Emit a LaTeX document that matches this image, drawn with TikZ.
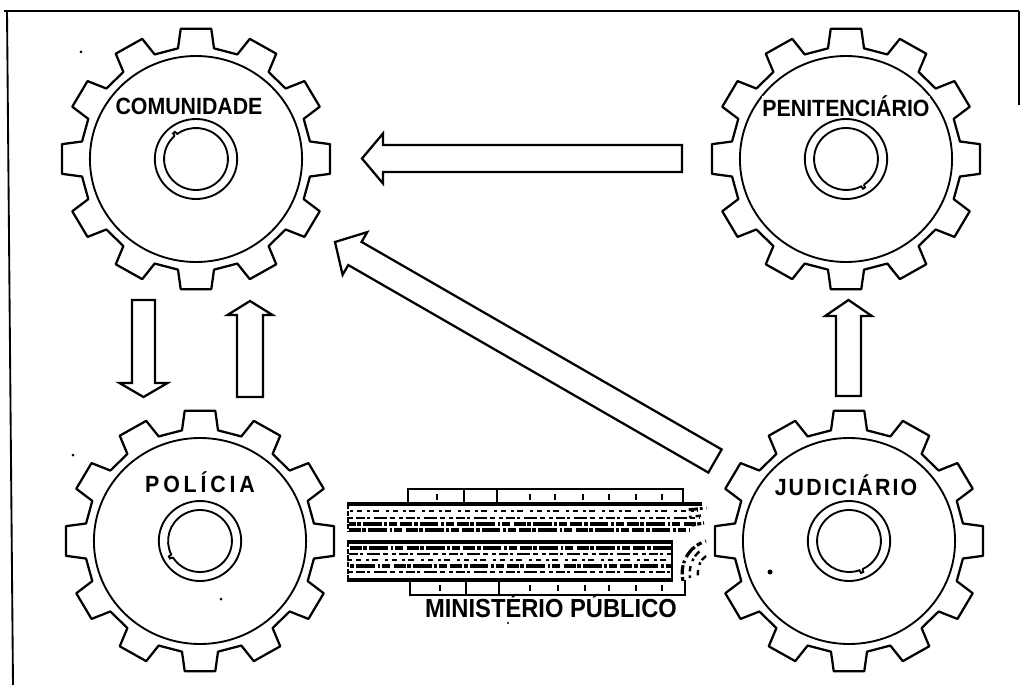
\documentclass[tikz,border=0pt]{standalone}
\usepackage{fontspec}
\setmainfont{Liberation Sans}
\usetikzlibrary{calc}

\tikzset{
  gearline/.style={line width=1.7pt, line join=round},
  hubline/.style={line width=1.4pt},
  arrowline/.style={line width=1.7pt, line join=miter, fill=white},
  framer/.style={line width=1.4pt},
  bracket/.style={line width=1.3pt},
  tickmark/.style={line width=1.1pt},
  heavy/.style={line width=2.4pt},
  speckA/.style={line width=2.2pt, dash pattern=on 3pt off 2pt on 7pt off 1.5pt on 2pt off 3pt on 10pt off 2pt on 4pt off 3pt},
  speckB/.style={line width=2.5pt, dash pattern=on 9pt off 1pt on 3pt off 1.5pt on 14pt off 2pt on 2pt off 1.5pt on 6pt off 2.5pt},
  speckC/.style={line width=1.8pt, dash pattern=on 2pt off 3pt on 4pt off 4pt on 2pt off 2pt on 5pt off 5pt},
  gearlabel/.style={font=\bfseries\fontsize{16}{16}\selectfont, anchor=base, inner sep=0pt},
}

% gear with twelve teeth, rim circle and hub with a small key notch
\newcommand\drawgear[2]{%
  \begin{scope}[shift={(#1)}, xscale=1.03, yscale=-1]
    \draw[gearline] (-9:112) \foreach \k in {0,30,...,330}{ -- (\k-9:112) -- (\k-6.5:131) -- (\k+6.5:131) -- (\k+9:112)} -- cycle;
    \draw[hubline] (0,0) circle[radius=103];
    \draw[hubline] (0,0) circle[radius=40];
    \draw[hubline] (#2+6:31) arc[start angle=#2+6, end angle=#2+360, radius=31] -- (#2+1:34) -- (#2+5:34) -- (#2+6:31);
  \end{scope}}

% hollow block arrow: tail, tip, shaft half width, head half width, head length
\newcommand\hollowarrow[5]{%
  \coordinate (hb) at ($(#2)!#5!(#1)$);
  \draw[arrowline] ($(#1)!#3!90:(#2)$) -- ($(hb)!#3!90:(#2)$) -- ($(hb)!#4!90:(#2)$) -- (#2)
    -- ($(hb)!#4!-90:(#2)$) -- ($(hb)!#3!-90:(#2)$) -- ($(#1)!#3!-90:(#2)$) -- cycle;}

\begin{document}
\begin{tikzpicture}[x=0.75pt, y=-0.75pt]
\useasboundingbox (0,0) rectangle (1022,685);

% frame
\draw[framer] (4,11) -- (1019,11);
\draw[framer] (7,11) -- (13,685);
\draw[framer] (1019,11) -- (1019,105);

% gear centres
\coordinate (com) at (196,159);
\coordinate (pen) at (846,159);
\coordinate (pol) at (200,541);
\coordinate (jud) at (849,541);

\drawgear{com}{126}
\drawgear{pen}{-62}
\drawgear{pol}{206}
\drawgear{jud}{-71}

% gear labels
\node[gearlabel] (lcom) at (189,115) {\scalebox{1}[1.1]{COMUNIDADE}};
\node[gearlabel, fill=white, inner sep=0.4pt] (lpen) at (846,117) {\scalebox{1}[1.1]{PENITENCIÁRIO}};
\node[gearlabel] (lpol) at (200,492) {\scalebox{1}[1.1]{\addfontfeatures{LetterSpace=18}POLÍCIA}};
\node[gearlabel] (ljud) at (846,495) {\scalebox{1}[1.1]{\addfontfeatures{LetterSpace=10}JUDICIÁRIO}};

% arrow end points
\coordinate (penOut) at (682,158.5);
\coordinate (comIn)  at (362,158.5);
\coordinate (judOut) at (715,461);
\coordinate (comIn2) at (335,242);
\coordinate (comDown) at (143.5,300);
\coordinate (polIn)   at (143.5,397);
\coordinate (polOut)  at (250,397);
\coordinate (comUp)   at (250,301);
\coordinate (judUp)   at (848.5,396);
\coordinate (penIn)   at (848.5,300);

\hollowarrow{penOut}{comIn}{10.1pt}{18.75pt}{15.75pt}
\hollowarrow{judOut}{comIn2}{10pt}{18.5pt}{17.25pt}
\hollowarrow{comDown}{polIn}{8.6pt}{18pt}{10.5pt}
\hollowarrow{polOut}{comUp}{9.75pt}{16.9pt}{10.5pt}
\hollowarrow{judUp}{penIn}{9.4pt}{17.5pt}{12pt}

% Ministerio Publico: two speckled bands between bracket rails
\draw[bracket] (408,503) -- (408,489) -- (683,489) -- (683,503);
\foreach \x in {464,497} \draw[bracket] (\x,489) -- (\x,503);
\foreach \x in {437,530,555,583,609,636,662} \draw[tickmark] (\x,494) -- (\x,500);
\draw[bracket] (410,580) -- (410,595) -- (685,595) -- (685,580);
\foreach \x in {466,499} \draw[bracket] (\x,580) -- (\x,595);
\foreach \x in {440,530,558,585,609,636,662} \draw[tickmark] (\x,585) -- (\x,591);

% upper band
\draw[heavy] (347,504) -- (702,504);
\draw[speckC] (350,511) -- (698,511);
\draw[speckA] (349,518) -- (700,518);
\draw[speckB, dash phase=4pt] (349,524) -- (696,524);
\draw[speckB] (349,530) -- (690,530);
\draw[line width=1.6pt, dash pattern=on 4pt off 1pt] (348,504) -- (348,531);
% upper band end
\draw[speckA, dash phase=3pt] (686,510) -- (707,508);
\draw[speckC] (689,517) -- (706,515);
\draw[speckB, dash phase=6pt] (692,525) -- (704,523);

% lower band
\draw[heavy] (347,542) -- (673,542);
\draw[speckB] (350,548) -- (672,548);
\draw[speckA, dash phase=5pt] (349,554) -- (672,554);
\draw[speckC] (349,560) -- (672,560);
\draw[speckB, dash phase=9pt] (349,566) -- (672,566);
\draw[speckA] (349,572) -- (672,572);
\draw[heavy] (347,580) -- (673,580);
\draw[line width=1.6pt, dash pattern=on 4pt off 1pt] (348,542) -- (348,580);
\draw[line width=1.8pt] (672,542) -- (672,580);
% rolled end of the lower band
\draw[speckA, line width=2.4pt] (683,581) .. controls (679,562) and (690,546) .. (706,541);
\draw[speckC] (690,578) .. controls (688,565) and (695,552) .. (705,548);
\draw[speckC, dash phase=3pt] (698,578) .. controls (697,568) and (700,560) .. (706,556);

\node[font=\bfseries\fontsize{17.8}{17.8}\selectfont, anchor=base, inner sep=0pt] (mp) at (551,617) {\scalebox{1}[1.1]{MINISTÉRIO PÚBLICO}};

% stray specks
\fill (81,52) circle[radius=1.5];
\fill (73,455) circle[radius=1.5];
\fill (221,599) circle[radius=1.5];
\fill (770,572) circle[radius=2.5];
\fill (508,623) circle[radius=1.2];
\end{tikzpicture}
\end{document}
